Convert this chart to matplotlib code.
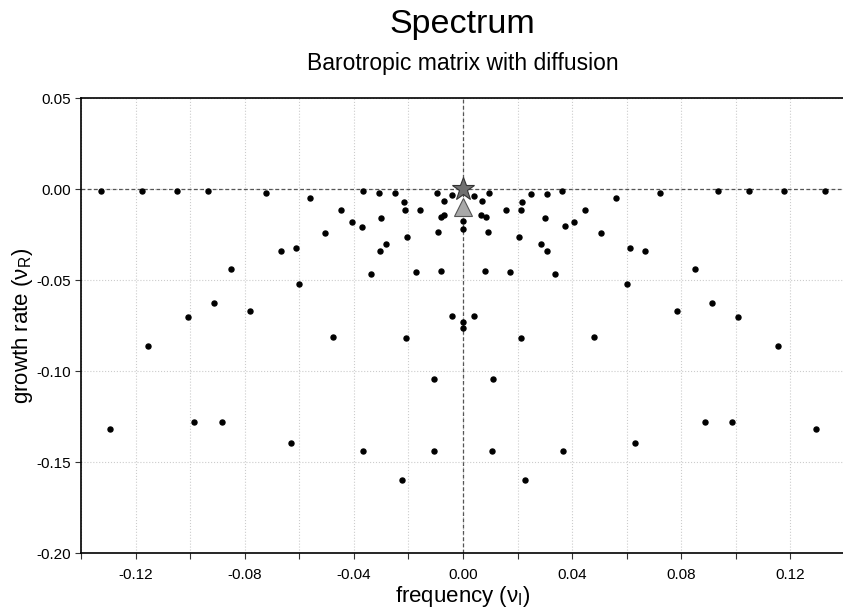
import matplotlib
matplotlib.use("Agg")
import matplotlib.pyplot as plt
from matplotlib.ticker import MultipleLocator, FormatStrFormatter

plt.rcParams['font.family'] = ['Liberation Sans', 'DejaVu Sans']
plt.rcParams['mathtext.fontset'] = 'custom'
plt.rcParams['mathtext.rm'] = 'Liberation Sans'
plt.rcParams['axes.unicode_minus'] = False

# eigenvalues: frequency (nu_I) and growth rate (nu_R)
freq = [
    -0.1327, -0.1176, -0.1049, -0.0933, -0.0721, -0.0365,
    0.1326, 0.1177, 0.1049, 0.0933, 0.0722, 0.0364,
    -0.0309, 0.0308, -0.0248, 0.0248, -0.0096, 0.0097, -0.0042, 0.0042,
    -0.0215, 0.0216, -0.0069, 0.0069, -0.0211, 0.0212, -0.0157, 0.0158,
    -0.0300, 0.0302, -0.0081, 0.0083, -0.0069, 0.0067, -0.0204, 0.0204,
    -0.0090, 0.0091, -0.0283, 0.0284, -0.0305, 0.0306, -0.0172, 0.0172,
    -0.0081, 0.0081, -0.0337, 0.0336, -0.0407, 0.0406, -0.0372, 0.0372,
    -0.0561, 0.0561, -0.0448, 0.0448, -0.0507, 0.0507, -0.0612, 0.0611,
    -0.0668, 0.0667, -0.0852, 0.0852, -0.0600, 0.0600,
    0.0, 0.0, 0.0, 0.0, -0.0039, 0.0040,
    -0.1293, 0.1295, -0.1153, 0.1153, -0.1008, 0.1007, -0.0913, 0.0914,
    -0.0782, 0.0783, -0.0477, 0.0479, -0.0210, 0.0212, -0.0108, 0.0109,
    -0.0985, 0.0986, -0.0885, 0.0886, -0.0631, 0.0630, -0.0367, 0.0365,
    -0.0105, 0.0106, -0.0224, 0.0226,
]
growth = [
    -0.0009, -0.0009, -0.0009, -0.0009, -0.0018, -0.0010,
    -0.0009, -0.0009, -0.0009, -0.0009, -0.0018, -0.0010,
    -0.0021, -0.0024, -0.0021, -0.0024, -0.0021, -0.0021, -0.0033, -0.0035,
    -0.0068, -0.0069, -0.0064, -0.0064, -0.0113, -0.0113, -0.0113, -0.0113,
    -0.0155, -0.0155, -0.0153, -0.0152, -0.0143, -0.0141, -0.0262, -0.0262,
    -0.0236, -0.0236, -0.0302, -0.0300, -0.0340, -0.0340, -0.0456, -0.0456,
    -0.0450, -0.0450, -0.0467, -0.0467, -0.0181, -0.0181, -0.0205, -0.0203,
    -0.0046, -0.0046, -0.0112, -0.0112, -0.0241, -0.0241, -0.0321, -0.0321,
    -0.0341, -0.0341, -0.0440, -0.0440, -0.0520, -0.0520,
    -0.0174, -0.0220, -0.0728, -0.0761, -0.0695, -0.0695,
    -0.1318, -0.1318, -0.0863, -0.0863, -0.0704, -0.0704, -0.0626, -0.0626,
    -0.0669, -0.0669, -0.0811, -0.0811, -0.0819, -0.0819, -0.1045, -0.1045,
    -0.1281, -0.1281, -0.1282, -0.1282, -0.1397, -0.1397, -0.1438, -0.1438,
    -0.1438, -0.1438, -0.1598, -0.1598,
]
# highlighted modes
star_freq, star_growth = [0.0], [0.0]
tri_freq, tri_growth = [0.0], [-0.0095]

fig = plt.figure(figsize=(8.43, 6.12), dpi=100)
axe = fig.add_axes([0.0961, 0.0964, 0.9063, 0.7427])

axe.grid(True, which='both', color='#cccccc', linestyle=':', linewidth=0.8)
axe.set_axisbelow(True)
axe.axhline(0, color='#555555', linestyle=(0, (3, 2)), linewidth=0.9, zorder=1)
axe.axvline(0, color='#555555', linestyle=(0, (3, 2)), linewidth=0.9, zorder=1)

axe.plot(freq, growth, 'o', color='black', markersize=3.6, zorder=3)
axe.plot(star_freq, star_growth, '*', markersize=17, markerfacecolor='#707070',
         markeredgecolor='#333333', markeredgewidth=0.8, zorder=4)
axe.plot(tri_freq, tri_growth, '^', markersize=12.5, markerfacecolor='#a8a8a8',
         markeredgecolor='#555555', markeredgewidth=0.8, zorder=5)

axe.set_xlim(-0.14, 0.14)
axe.set_ylim(-0.20, 0.05)
axe.xaxis.set_major_locator(MultipleLocator(0.04))
axe.xaxis.set_minor_locator(MultipleLocator(0.02))
axe.yaxis.set_major_locator(MultipleLocator(0.05))
axe.xaxis.set_major_formatter(FormatStrFormatter('%.2f'))
axe.yaxis.set_major_formatter(FormatStrFormatter('%.2f'))
axe.tick_params(which='both', direction='out', length=4, width=0.8,
                labelsize=11, color='#333333')
axe.tick_params(axis='x', pad=7)
for side in axe.spines.values():
    side.set_linewidth(1.2)

axe.set_xlabel("frequency (ν$_\\mathrm{I}$)", fontsize=16, labelpad=1)
axe.set_ylabel("growth rate (ν$_\\mathrm{R}$)", fontsize=16, labelpad=1)

fig.text(0.549, 0.985, "Spectrum", fontsize=24.5, ha='center', va='top')
fig.text(0.549, 0.915, "Barotropic matrix with diffusion", fontsize=16.5,
         ha='center', va='top')

plt.savefig('out.png', dpi=100)
